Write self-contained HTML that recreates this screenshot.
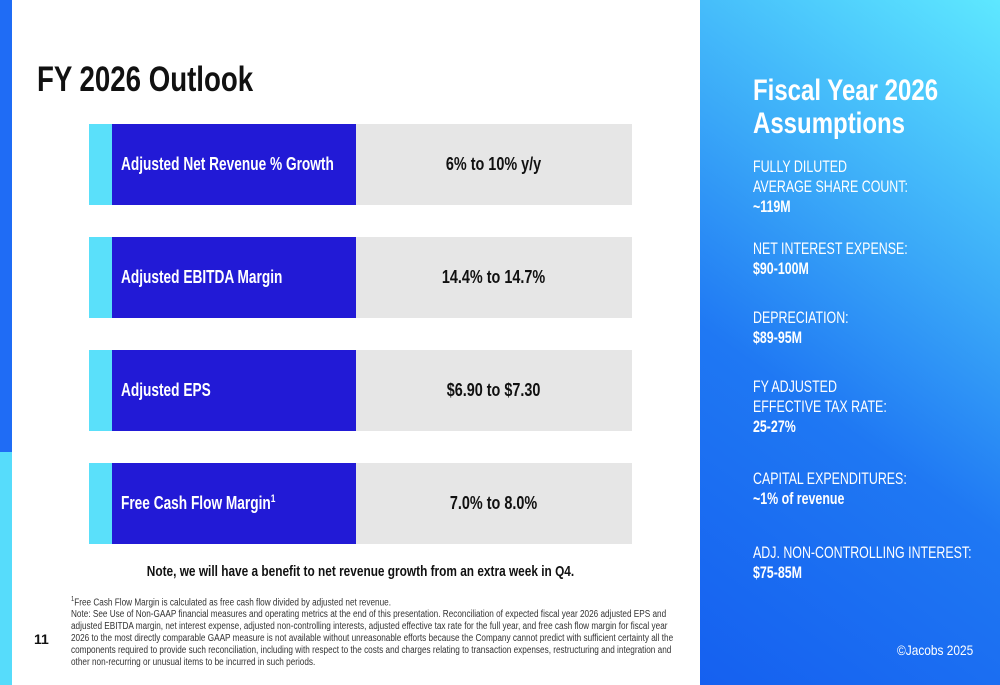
<!DOCTYPE html>
<html><head><meta charset="utf-8"><style>
body{margin:0;width:1000px;height:685px;overflow:hidden;background:#fff;font-family:"Liberation Sans",sans-serif;position:relative}
.a{position:absolute}
.s{display:inline-block;transform-origin:left center;white-space:nowrap}
.row .c{position:absolute;left:89px;width:23px;height:81px;background:#5ae0fa}
.row .b{position:absolute;left:112px;width:244px;height:81px;background:#221ad6;color:#fff;font-size:18px;font-weight:bold;line-height:81px;padding-left:9px;box-sizing:border-box}
.row .b .s{transform:scaleX(.76)}
.row .g{position:absolute;left:356px;width:276px;height:81px;background:#e6e6e6;color:#111;font-size:18px;font-weight:bold;line-height:81px;text-align:center}
.row .g .s{transform:scaleX(.8);transform-origin:center}
.rp{position:absolute;left:753px;color:#fff;font-size:17px;line-height:20px;transform:scaleX(.73);transform-origin:left top;white-space:nowrap}
</style></head><body>
<div class="a" style="left:0;top:0;width:12px;height:452px;background:#1f6cf5"></div>
<div class="a" style="left:0;top:452px;width:12px;height:233px;background:#56dcfb"></div>
<div class="a" style="left:37px;top:60px;font-size:35px;font-weight:bold;color:#111;transform:scaleX(.79);transform-origin:left top;white-space:nowrap">FY 2026 Outlook</div>

<div class="row"><div class="c" style="top:124px"></div><div class="b" style="top:124px"><span class="s">Adjusted Net Revenue % Growth</span></div><div class="g" style="top:124px"><span class="s">6% to 10% y/y</span></div></div>
<div class="row"><div class="c" style="top:237px"></div><div class="b" style="top:237px"><span class="s">Adjusted EBITDA Margin</span></div><div class="g" style="top:237px"><span class="s">14.4% to 14.7%</span></div></div>
<div class="row"><div class="c" style="top:350px"></div><div class="b" style="top:350px"><span class="s">Adjusted EPS</span></div><div class="g" style="top:350px"><span class="s">$6.90 to $7.30</span></div></div>
<div class="row"><div class="c" style="top:463px"></div><div class="b" style="top:463px"><span class="s">Free Cash Flow Margin<sup style="font-size:11px;line-height:0">1</sup></span></div><div class="g" style="top:463px"><span class="s">7.0% to 8.0%</span></div></div>

<div class="a" style="left:89px;width:543px;top:563px;text-align:center;font-size:15px;font-weight:bold;color:#111"><span class="s" style="transform:scaleX(.79);transform-origin:center">Note, we will have a benefit to net revenue growth from an extra week in Q4.</span></div>
<div class="a" style="left:71px;top:594px;width:740px;font-size:10px;line-height:12px;color:#333;transform:scaleX(.82);transform-origin:left top"><sup style="font-size:7px">1</sup>Free Cash Flow Margin is calculated as free cash flow divided by adjusted net revenue.<br>Note: See Use of Non-GAAP financial measures and operating metrics at the end of this presentation. Reconciliation of expected fiscal year 2026 adjusted EPS and<br>adjusted EBITDA margin, net interest expense, adjusted non-controlling interests, adjusted effective tax rate for the full year, and free cash flow margin for fiscal year<br>2026 to the most directly comparable GAAP measure is not available without unreasonable efforts because the Company cannot predict with sufficient certainty all the<br>components required to provide such reconciliation, including with respect to the costs and charges relating to transaction expenses, restructuring and integration and<br>other non-recurring or unusual items to be incurred in such periods.</div>
<div class="a" style="left:34px;top:631px;font-size:14px;font-weight:bold;color:#111">11</div>

<div class="a" style="left:700px;top:0;width:300px;height:685px;background:linear-gradient(35deg,#1560f0 0%,#1f78f3 40%,#3aa8f8 65%,#5ee8ff 100%)"></div>
<div class="rp" style="top:74px;font-size:30px;line-height:33px;font-weight:bold;transform:scaleX(.8)">Fiscal Year 2026<br>Assumptions</div>
<div class="rp" style="top:157px">FULLY DILUTED<br>AVERAGE SHARE COUNT:<br><b>~119M</b></div>
<div class="rp" style="top:239px">NET INTEREST EXPENSE:<br><b>$90-100M</b></div>
<div class="rp" style="top:308px">DEPRECIATION:<br><b>$89-95M</b></div>
<div class="rp" style="top:377px">FY ADJUSTED<br>EFFECTIVE TAX RATE:<br><b>25-27%</b></div>
<div class="rp" style="top:469px">CAPITAL EXPENDITURES:<br><b>~1% of revenue</b></div>
<div class="rp" style="top:543px">ADJ. NON-CONTROLLING INTEREST:<br><b>$75-85M</b></div>
<div class="rp" style="top:640px;left:897px;font-size:14px;transform:scaleX(.85)">©Jacobs 2025</div>
</body></html>
